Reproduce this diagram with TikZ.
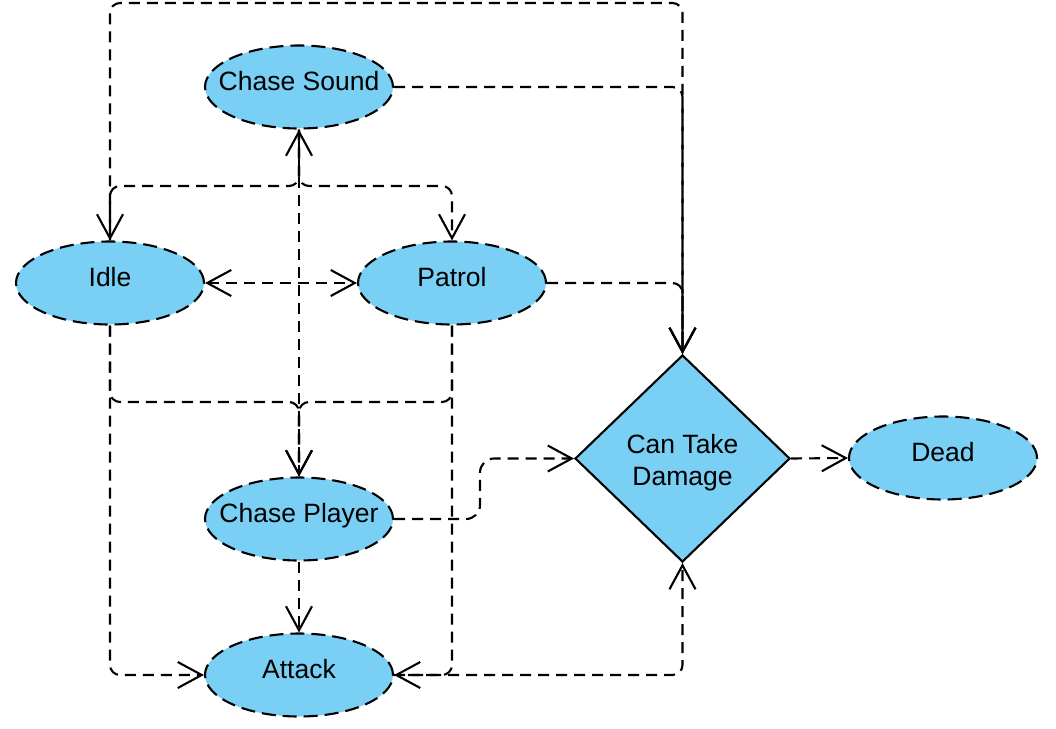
\documentclass[tikz,border=0pt]{standalone}
\usepackage{fontspec}
\setmainfont{Liberation Sans}
\usetikzlibrary{shapes.geometric,arrows.meta,calc}
\definecolor{nodefill}{RGB}{122,207,244}
\newcommand{\elab}[1]{\smash{\makebox[0pt]{\raisebox{-3.5pt}{#1}}}}
\newcommand{\dlab}[1]{\smash{\makebox[0pt]{\raisebox{5.5pt}{\begin{tabular}[t]{@{}c@{}}#1\end{tabular}}}}}
\begin{document}
\begin{tikzpicture}[x=1pt,y=-1pt,
  >={Straight Barb[length=24pt,width=26pt]},
  state/.style={ellipse, draw=black, line width=2.1pt, dash pattern=on 14pt off 7pt,
    fill=nodefill, minimum width=188pt, minimum height=83pt, inner sep=0pt,
    font=\fontsize{26.5}{32}\selectfont},
  decision/.style={diamond, draw=black, line width=2.1pt, fill=nodefill,
    minimum width=215pt, minimum height=207pt, inner sep=0pt,
    font=\fontsize{26.5}{32}\selectfont},
  flow/.style={draw=black, line width=2.1pt, dash pattern=on 11pt off 7pt,
    rounded corners=10pt, ->}
]
\useasboundingbox (0,0) rectangle (1056,728);

\node[state] (cs) at (299,87) {\elab{Chase Sound}};
\node[state] (idle) at (110,283) {\elab{Idle}};
\node[state] (patrol) at (452,283) {\elab{Patrol}};
\node[state] (cp) at (299,519) {\elab{Chase Player}};
\node[state] (att) at (299,675) {\elab{Attack}};
\node[state] (dead) at (943,458) {\elab{Dead}};
\node[decision] (ctd) at (682.5,458.5) {\dlab{Can Take\\Damage}};

\coordinate (jCSI) at (110,186);
\coordinate (jCSP) at (452,186);
\coordinate (jICP) at (110,402);
\coordinate (jPCP) at (452,402);
\coordinate (jCPD) at (480,490);
\coordinate (jTop) at (682.5,3);

% top loop Idle -> Can Take Damage
\draw[flow] (idle.north) |- (jTop) -- (ctd.north);
% Chase Sound / Patrol -> Can Take Damage
\draw[flow] (cs.east) -| (ctd.north);
\draw[flow] (patrol.east) -| (ctd.north);
% Chase Sound -> Idle, Patrol
\draw[flow] (cs.south) |- (jCSI) -- (idle.north);
\draw[flow] (cs.south) |- (jCSP) -- (patrol.north);
% Idle <-> Patrol
\draw[flow,<->] (idle.east) -- (patrol.west);
% Chase Player -> Chase Sound
\draw[flow] (cp.north) -- (cs.south);
% Idle, Patrol -> Chase Player
\draw[flow] (idle.south) -- (jICP) -| (cp.north);
\draw[flow] (patrol.south) -- (jPCP) -| (cp.north);
% -> Attack
\draw[flow] (idle.south) |- (att.west);
\draw[flow] (patrol.south) |- (att.east);
\draw[flow] (cp.south) -- (att.north);
% -> Can Take Damage
\draw[flow] (att.east) -| (ctd.south);
\draw[flow,rounded corners=14pt] (cp.east) -| (jCPD) |- (ctd.west);
% -> Dead
\draw[flow] (ctd.east) -- (dead.west);
\end{tikzpicture}
\end{document}
